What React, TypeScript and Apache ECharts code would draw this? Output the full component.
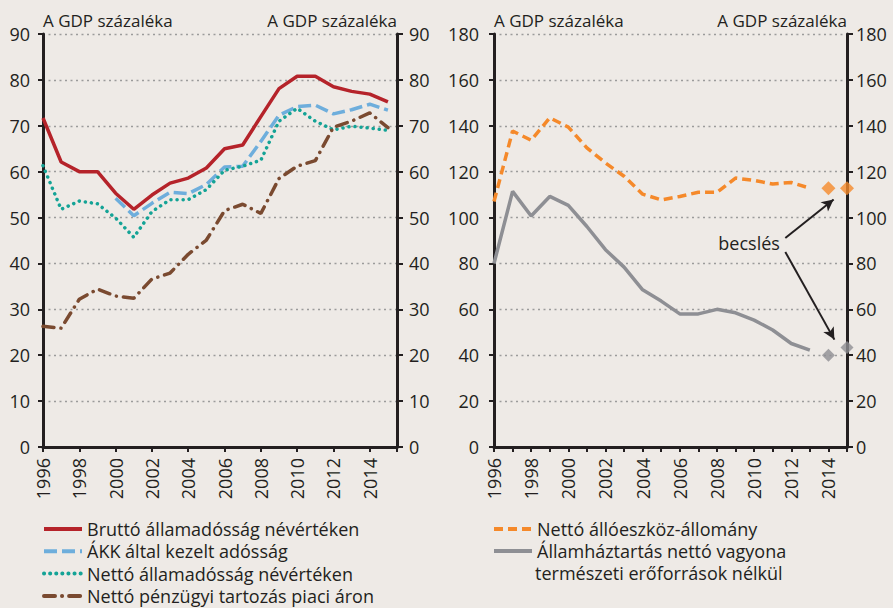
import React, { useEffect, useRef } from 'react';
import * as echarts from 'echarts';

// ---- Data ----
const years = [1996, 1997, 1998, 1999, 2000, 2001, 2002, 2003, 2004, 2005, 2006, 2007, 2008, 2009, 2010, 2011, 2012, 2013, 2014, 2015];
const brutto = [71.7, 62.1, 60.0, 60.0, 55.3, 51.8, 54.9, 57.5, 58.6, 60.8, 65.0, 65.8, 72.0, 78.1, 80.8, 80.8, 78.5, 77.5, 76.9, 75.2];
const akk = [null, null, null, null, 54.2, 50.4, 53.1, 55.5, 55.2, 57.2, 61.0, 61.2, 66.6, 72.3, 74.2, 74.5, 72.6, 73.5, 74.7, 73.4];
const nettoAllamadossag = [61.3, 51.8, 53.6, 53.0, 49.9, 45.7, 51.3, 53.9, 53.9, 56.1, 60.3, 61.2, 62.5, 71.0, 73.8, 71.0, 69.1, 69.9, 69.5, 69.0];
const nettoPenzugyi = [26.3, 25.9, 32.2, 34.4, 32.9, 32.4, 36.6, 37.9, 42.0, 45.1, 51.5, 52.9, 50.9, 58.5, 61.2, 62.4, 69.7, 71.0, 72.8, 69.6];

const yearsRight = [1996, 1997, 1998, 1999, 2000, 2001, 2002, 2003, 2004, 2005, 2006, 2007, 2008, 2009, 2010, 2011, 2012, 2013];
const alloeszkoz = [107.0, 137.7, 133.7, 143.5, 139.4, 130.4, 123.8, 118.0, 110.2, 107.7, 109.2, 111.0, 111.0, 117.2, 116.2, 114.6, 115.3, 112.8];
const vagyon = [80.0, 111.4, 100.7, 109.2, 105.3, 96.1, 86.0, 78.4, 68.5, 63.6, 58.0, 58.0, 60.0, 58.5, 55.3, 51.0, 45.1, 42.2];
const estYears = [2014, 2015];
const alloeszkozEst = [112.8, 112.8];
const vagyonEst = [40.0, 43.4];

// annotation (data coordinates)
const annotationText = 'becslés';
const annotationPos = [2009.73, 88.8];
const arrows = [
  [[2011.68, 91.1], [2014.28, 107.9]],
  [[2011.68, 85.0], [2014.32, 46.8]],
];

const yTitle = 'A GDP százaléka';
const leftNames = [
  'Bruttó államadósság névértéken',
  'ÁKK által kezelt adósság',
  'Nettó államadósság névértéken',
  'Nettó pénzügyi tartozás piaci áron',
];
const rightNames = ['Nettó állóeszköz-állomány', 'Államháztartás nettó vagyona'];
const rightNameLine2 = 'természeti erőforrások nélkül';

// ---- Styles ----
const FONT = 'Open Sans';
const TEXT = '#231F20';
const BG = '#EEEAE6';
const C_RED = '#B5232A';
const C_BLUE = '#6EAEDC';
const C_TEAL = '#14A396';
const C_BROWN = '#7A4A30';
const C_ORANGE = '#F5892A';
const C_GRAY = '#8E8F94';

const pairs = (xs: number[], ys: (number | null)[]) =>
  xs.map((x, i) => [x, ys[i]]).filter((p) => p[1] !== null);

const axisLine = { show: true, onZero: false, lineStyle: { color: TEXT, width: 3 } };
const splitLine = { show: true, lineStyle: { color: '#9B9B9B', width: 1.3, type: [2, 3.5] } };
const labelStyle = { fontSize: 18, color: TEXT, fontFamily: FONT };
const titleStyle = { fontSize: 17, color: TEXT, fontFamily: FONT };

function yAxes(gridIndex: number, max: number, interval: number, lm: number, rm: number) {
  return [
    {
      type: 'value', gridIndex, position: 'left', min: 0, max, interval,
      name: yTitle, nameLocation: 'end', nameGap: 14,
      nameTextStyle: { ...titleStyle, align: 'left', verticalAlign: 'middle' },
      axisLine, axisTick: { show: true, length: 5, lineStyle: { color: TEXT, width: 2 } },
      axisLabel: { ...labelStyle, margin: lm },
      splitLine,
    },
    {
      type: 'value', gridIndex, position: 'right', min: 0, max, interval,
      name: yTitle, nameLocation: 'end', nameGap: 14,
      nameTextStyle: { ...titleStyle, align: 'right', verticalAlign: 'middle' },
      axisLine, axisTick: { show: true, length: 6, lineStyle: { color: TEXT, width: 2 } },
      axisLabel: { ...labelStyle, margin: rm },
      splitLine: { show: false },
    },
  ];
}

function xAxis(gridIndex: number, max: number, interval: number) {
  return {
    type: 'value', gridIndex, min: 1996, max, interval,
    axisLine, axisTick: { show: true, length: 5, lineStyle: { color: TEXT, width: 2 } },
    axisLabel: {
      ...labelStyle, rotate: 90, margin: 11,
      formatter: (v: number) => (Number.isInteger(v) && v % 2 === 0 && v <= 2014 ? String(v) : ''),
    },
    splitLine: { show: false },
  };
}

const legendCommon = {
  orient: 'vertical', selectedMode: false, padding: 0,
  itemWidth: 38, itemHeight: 14, height: 120,
  itemStyle: { opacity: 0 },
  lineStyle: { width: 4 },
  textStyle: { fontSize: 18, color: TEXT, fontFamily: FONT },
};

export default function App() {
  const ref = useRef<HTMLDivElement>(null);
  useEffect(() => {
    if (!ref.current) return;
    const chart = echarts.init(ref.current, null, { renderer: 'svg' });
    const lineBase = { type: 'line', symbol: 'none', showSymbol: false, smooth: false };
    chart.setOption({
      animation: false,
      backgroundColor: BG,
      textStyle: { fontFamily: FONT },
      grid: [
        { left: 43, top: 34, width: 354, height: 413 },
        { left: 494, top: 34, width: 353, height: 413 },
      ],
      xAxis: [xAxis(0, 2015.5, 2), xAxis(1, 2015, 1)],
      yAxis: [...yAxes(0, 90, 10, 13, 12), ...yAxes(1, 180, 20, 15, 9)],
      legend: [
        { ...legendCommon, data: leftNames, left: 42, top: 520, itemGap: 4.3 },
        { ...legendCommon, data: rightNames, left: 492, top: 520, itemGap: 4.0 },
      ],
      graphic: [
        {
          type: 'text', left: 535, top: 564,
          style: { text: rightNameLine2, fontSize: 18, fontFamily: FONT, fill: TEXT },
        },
      ],
      series: [
        {
          ...lineBase, name: leftNames[0], xAxisIndex: 0, yAxisIndex: 0, color: C_RED,
          lineStyle: { color: C_RED, width: 3.5 }, data: pairs(years, brutto),
        },
        {
          ...lineBase, name: leftNames[1], xAxisIndex: 0, yAxisIndex: 0, color: C_BLUE,
          lineStyle: { color: C_BLUE, width: 3.5, type: [13, 5] }, data: pairs(years, akk),
        },
        {
          ...lineBase, name: leftNames[2], xAxisIndex: 0, yAxisIndex: 0, color: C_TEAL,
          lineStyle: { color: C_TEAL, width: 3.5, type: [0.1, 6], cap: 'round' },
          data: pairs(years, nettoAllamadossag),
        },
        {
          ...lineBase, name: leftNames[3], xAxisIndex: 0, yAxisIndex: 0, color: C_BROWN,
          lineStyle: { color: C_BROWN, width: 3.5, type: [11, 7, 0.1, 7], cap: 'round' },
          data: pairs(years, nettoPenzugyi),
        },
        {
          ...lineBase, name: rightNames[0], xAxisIndex: 1, yAxisIndex: 2, color: C_ORANGE,
          lineStyle: { color: C_ORANGE, width: 3.5, type: [9, 5] }, data: pairs(yearsRight, alloeszkoz),
        },
        {
          ...lineBase, name: rightNames[1], xAxisIndex: 1, yAxisIndex: 2, color: C_GRAY,
          lineStyle: { color: C_GRAY, width: 3.5 }, data: pairs(yearsRight, vagyon),
        },
        {
          type: 'scatter', name: 'est1', xAxisIndex: 1, yAxisIndex: 2, symbol: 'diamond', symbolSize: 14,
          itemStyle: { color: C_ORANGE }, data: pairs(estYears, alloeszkozEst), z: 5,
        },
        {
          type: 'scatter', name: 'est2', xAxisIndex: 1, yAxisIndex: 2, symbol: 'diamond', symbolSize: 13,
          itemStyle: { color: C_GRAY }, data: pairs(estYears, vagyonEst), z: 5,
          markLine: {
            silent: true, symbol: ['none', 'arrow'], symbolSize: [9, 12],
            lineStyle: { color: TEXT, width: 2, type: 'solid' }, label: { show: false },
            data: arrows.map(([a, b]) => [{ coord: a }, { coord: b }]),
          },
          markPoint: {
            silent: true, symbol: 'rect', symbolSize: 0, itemStyle: { color: 'transparent' },
            label: { show: true, position: 'inside', formatter: annotationText, fontSize: 18, color: TEXT, fontFamily: FONT },
            data: [{ coord: annotationPos }],
          },
        },
      ],
    });
    return () => chart.dispose();
  }, []);
  return <div ref={ref} style={{ position: 'absolute', left: 0, top: 0, width: 893, height: 608 }} />;
}
